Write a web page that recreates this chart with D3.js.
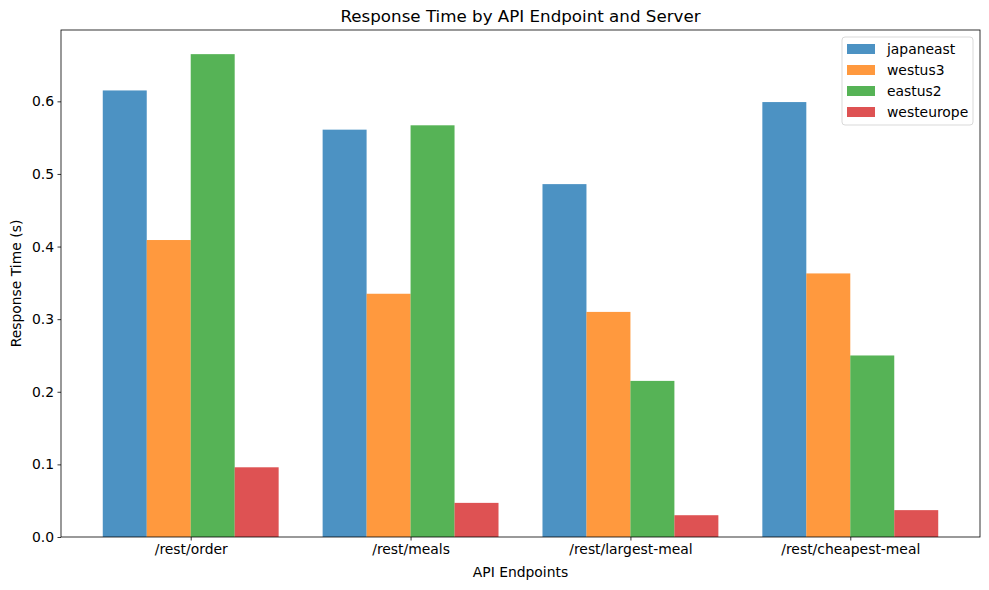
<!DOCTYPE html>
<html>
<head>
<meta charset="utf-8">
<script src="https://cdn.jsdelivr.net/npm/d3@7/dist/d3.min.js"></script>
<style>
  body { margin: 0; background: #fff; }
  svg { display: block; font-family: "DejaVu Sans", sans-serif; }
</style>
</head>
<body>
<svg id="chart" width="989" height="590"></svg>
<script>
const endpoints = ["/rest/order", "/rest/meals", "/rest/largest-meal", "/rest/cheapest-meal"];
const servers = ["japaneast", "westus3", "eastus2", "westeurope"];
const japaneast = [0.615, 0.561, 0.486, 0.599];
const westus3 = [0.409, 0.335, 0.310, 0.363];
const eastus2 = [0.665, 0.567, 0.215, 0.250];
const westeurope = [0.096, 0.047, 0.030, 0.037];
const yTicks = [0.0, 0.1, 0.2, 0.3, 0.4, 0.5, 0.6];
const colors = ["#1f77b4", "#ff7f0e", "#2ca02c", "#d62728"];

const seriesValues = [japaneast, westus3, eastus2, westeurope];

const svg = d3.select("#chart");
const mLeft = 61, mRight = 980, mTop = 30, mBottom = 537;

const barW = 0.2;
const allVals = seriesValues.flat();
const ymax = d3.max(allVals) * 1.05;

const x = d3.scaleLinear().domain([-0.4 - 0.19, endpoints.length - 1 + 0.4 + 0.19]).range([mLeft, mRight]);
const y = d3.scaleLinear().domain([0, ymax]).range([mBottom, mTop]);

// bars
seriesValues.forEach((vals, si) => {
  const off = (si - 1.5) * barW;
  svg.append("g").selectAll("rect").data(vals).join("rect")
    .attr("x", (d, i) => x(i + off - barW / 2))
    .attr("width", (d, i) => x(i + off + barW / 2) - x(i + off - barW / 2))
    .attr("y", d => y(d))
    .attr("height", d => y(0) - y(d))
    .attr("fill", colors[si])
    .attr("fill-opacity", 0.8);
});

// axes
const xAxis = d3.axisBottom(x).tickValues(endpoints.map((d, i) => i))
  .tickFormat(i => endpoints[i]).tickSize(3.5).tickPadding(3.5);
const gx = svg.append("g").attr("transform", `translate(0,${mBottom})`).call(xAxis);
const yAxis = d3.axisLeft(y).tickValues(yTicks).tickFormat(d3.format(".1f")).tickSize(3.5).tickPadding(3.5);
const gy = svg.append("g").attr("transform", `translate(${mLeft},0)`).call(yAxis);
[gx, gy].forEach(g => {
  g.select(".domain").remove();
  g.selectAll("line").attr("stroke", "#000").attr("stroke-width", 0.8);
  g.selectAll("text").attr("font-size", "13.9px").attr("fill", "#000")
    .attr("font-family", "DejaVu Sans, sans-serif");
});

// frame
svg.append("rect").attr("x", mLeft).attr("y", mTop)
  .attr("width", mRight - mLeft).attr("height", mBottom - mTop)
  .attr("fill", "none").attr("stroke", "#000").attr("stroke-width", 0.8);

// labels
svg.append("text").attr("x", (mLeft + mRight) / 2).attr("y", 22)
  .attr("text-anchor", "middle").attr("font-size", "16.7px")
  .text("Response Time by API Endpoint and Server");
svg.append("text").attr("x", (mLeft + mRight) / 2).attr("y", 577)
  .attr("text-anchor", "middle").attr("font-size", "13.9px")
  .text("API Endpoints");
svg.append("text").attr("transform", `translate(21,${(mTop + mBottom) / 2}) rotate(-90)`)
  .attr("text-anchor", "middle").attr("font-size", "13.9px")
  .text("Response Time (s)");

// legend
const lg = svg.append("g");
lg.append("rect").attr("x", 842).attr("y", 37).attr("width", 131).attr("height", 88)
  .attr("rx", 3).attr("fill", "#fff").attr("fill-opacity", 0.8)
  .attr("stroke", "#d9d9d9").attr("stroke-width", 1);
servers.forEach((s, i) => {
  const cy = 49 + i * 21;
  lg.append("rect").attr("x", 847).attr("y", cy - 5).attr("width", 28).attr("height", 10)
    .attr("fill", colors[i]).attr("fill-opacity", 0.8);
  lg.append("text").attr("x", 887).attr("y", cy + 5).attr("font-size", "13.9px").text(s);
});
</script>
</body>
</html>
